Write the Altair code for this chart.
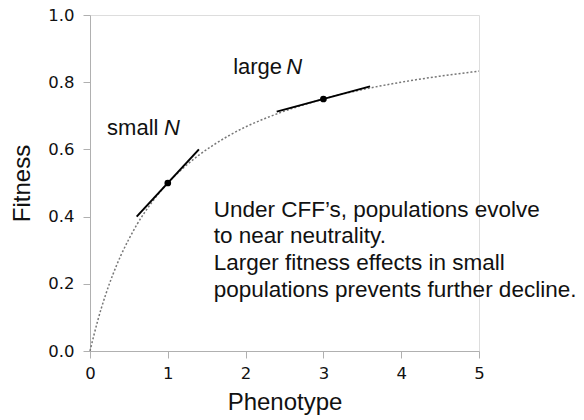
import altair as alt
import pandas as pd

# Curve
curve_x = [0, 0.1, 0.2, 0.3, 0.4, 0.5, 0.6, 0.8, 1.0, 1.2, 1.4, 1.6, 1.8, 2.0,
           2.25, 2.5, 2.75, 3.0, 3.5, 4.0, 4.5, 5.0]
curve_y = [0, 0.091, 0.167, 0.231, 0.286, 0.333, 0.375, 0.444, 0.5, 0.545, 0.583,
           0.615, 0.643, 0.667, 0.692, 0.714, 0.733, 0.75, 0.778, 0.8, 0.818, 0.833]

# Tangent segments
seg_group = ["small", "small", "large", "large"]
seg_x = [0.6, 1.4, 2.4, 3.6]
seg_y = [0.4, 0.6, 0.7125, 0.7875]

# Points
pt_x = [1.0, 3.0]
pt_y = [0.5, 0.75]

# Labels
lab_word = ["small", "large"]
lab_x = [0.22, 1.84]
lab_y = [0.664, 0.845]
lab_ndx = [57, 53]

note_lines = ["Under CFF\u2019s, populations evolve", "to near neutrality.",
              "Larger fitness effects in small", "populations prevents further decline."]
note_x = [1.59] * 4
note_y = [0.420, 0.342, 0.262, 0.182]

curve = pd.DataFrame({"x": curve_x, "y": curve_y})
segs = pd.DataFrame({"g": seg_group, "x": seg_x, "y": seg_y})
pts = pd.DataFrame({"x": pt_x, "y": pt_y})
labs = pd.DataFrame({"w": lab_word, "x": lab_x, "y": lab_y})
notes = pd.DataFrame({"t": note_lines, "x": note_x, "y": note_y})

FONT = "Liberation Sans"
TXT = 22.5

xs = alt.Scale(domain=[0, 5], nice=False)
ys = alt.Scale(domain=[0, 1], nice=False)

xaxis = alt.Axis(values=[0, 1, 2, 3, 4, 5], format="d", title="Phenotype",
                 labelPadding=7, titlePadding=9, labelFlush=False)
yaxis = alt.Axis(values=[0, 0.2, 0.4, 0.6, 0.8, 1.0], format=".1f", title="Fitness",
                 labelPadding=9, titlePadding=13, labelFlush=False)

base_curve = alt.Chart(curve).mark_line(
    color="#777", strokeWidth=1.5, strokeDash=[2, 2], interpolate="monotone"
).encode(x=alt.X("x:Q", scale=xs, axis=xaxis), y=alt.Y("y:Q", scale=ys, axis=yaxis))

seg_layer = alt.Chart(segs).mark_line(color="black", strokeWidth=2).encode(
    x=alt.X("x:Q", scale=xs), y=alt.Y("y:Q", scale=ys), detail="g:N")

pt_layer = alt.Chart(pts).mark_circle(color="black", size=45, opacity=1).encode(
    x=alt.X("x:Q", scale=xs), y=alt.Y("y:Q", scale=ys))

word_layer = alt.Chart(labs).mark_text(
    align="left", baseline="middle", font=FONT, fontSize=22, color="#111"
).encode(x=alt.X("x:Q", scale=xs), y=alt.Y("y:Q", scale=ys), text="w:N")

n_small = alt.Chart(labs.iloc[[0]]).mark_text(
    align="left", baseline="middle", font=FONT, fontSize=22, fontStyle="italic",
    color="#111", dx=lab_ndx[0]
).encode(x=alt.X("x:Q", scale=xs), y=alt.Y("y:Q", scale=ys), text=alt.value("N"))

n_large = alt.Chart(labs.iloc[[1]]).mark_text(
    align="left", baseline="middle", font=FONT, fontSize=22, fontStyle="italic",
    color="#111", dx=lab_ndx[1]
).encode(x=alt.X("x:Q", scale=xs), y=alt.Y("y:Q", scale=ys), text=alt.value("N"))

note_layer = alt.Chart(notes).mark_text(
    align="left", baseline="middle", font=FONT, fontSize=TXT, color="#111"
).encode(x=alt.X("x:Q", scale=xs), y=alt.Y("y:Q", scale=ys), text="t:N")

chart = alt.layer(base_curve, seg_layer, pt_layer, word_layer, n_small, n_large, note_layer).properties(
    width=389, height=336,
    autosize=alt.AutoSizeParams(type="none"),
    padding={"left": 90, "top": 15, "right": 105, "bottom": 69},
).configure_view(stroke=None).configure(background="white").configure_axis(
    grid=False, domainColor="#b0b0b0", tickColor="#b0b0b0", tickSize=7,
    labelFont="DejaVu Sans", labelFontSize=16.5, labelColor="#111", labelFlush=False,
    titleFont=FONT, titleFontSize=24, titleFontWeight="normal", titleColor="#111",
)

chart.save("out.html", embed_options={"renderer": "svg", "actions": False})
